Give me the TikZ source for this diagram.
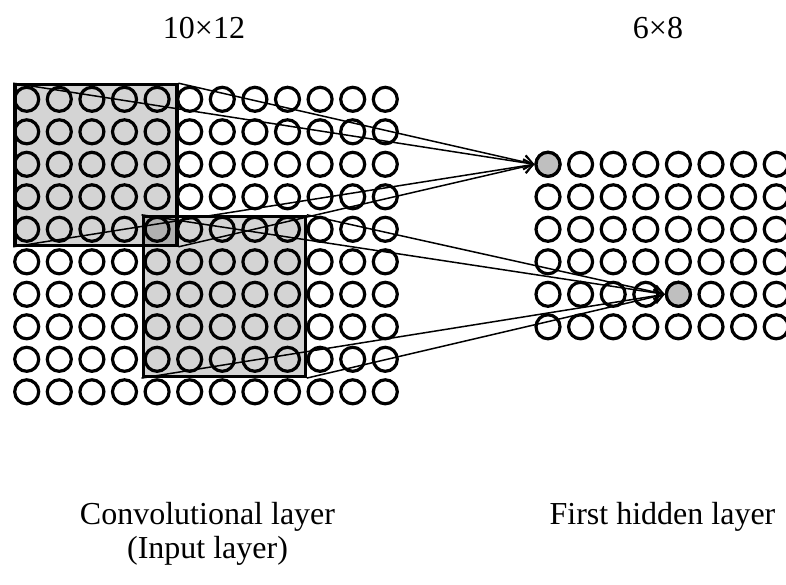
\documentclass[tikz,border=0pt]{standalone}
\usepackage{fontspec}
\setmainfont{Liberation Serif}
\usetikzlibrary{arrows.meta}
\usetikzlibrary{calc}

\tikzset{
 unit/.style={circle, draw=black, line width=3.2pt, minimum size=24pt, inner sep=0pt},
 active/.style={unit, fill=black!25},
 patch/.style={draw=black, line width=3.3pt, fill=black, fill opacity=.17, inner sep=0pt, anchor=north west},
 link/.style={black, line width=1.5pt, -{Straight Barb[length=9pt, width=14pt]}},
 lbl/.style={font=\fontsize{32}{38}\selectfont, anchor=base, inner sep=0pt}
}

\begin{document}
\begin{tikzpicture}[x=1pt, y=-1pt]
\useasboundingbox (0,0) rectangle (786,585);
% receptive fields
\node[patch, minimum width=162pt, minimum height=160.3pt] (f1) at (13.2,83.2) {};
\node[patch, minimum width=162pt, minimum height=160pt] (f2) at (141.5,214.8) {};
% input layer 10 x 12
\foreach \r in {1,...,10}
 \foreach \c in {1,...,12}
  \node[unit] (i-\r-\c) at ({26.7+32.6*(\c-1)}, {99.3+32.5*(\r-1)}) {};
% hidden layer 6 x 8
\foreach \r in {1,...,6}
 \foreach \c in {1,...,8}
  \node[unit] (h-\r-\c) at ({548+32.6*(\c-1)}, {164.3+32.5*(\r-1)}) {};
\node[active] (a1) at (h-1-1.center) {};
\node[active] (a2) at (h-5-5.center) {};
% connections
\foreach \k in {north west, north east, south west, south east} {
 \draw[link] (f1.\k) -- (a1.west);
 \draw[link] (f2.\k) -- (a2.west);
}
% labels
\node[lbl] (t-in) at (204,39) {10×12};
\node[lbl] (t-hid) at (658,39) {6×8};
\node[lbl] (n-in) at (207.5,524) {Convolutional layer};
\node[lbl] (n-in2) at (207.5,558) {(Input layer)};
\node[lbl] (n-hid) at (662.5,524) {First hidden layer};
\end{tikzpicture}
\end{document}
